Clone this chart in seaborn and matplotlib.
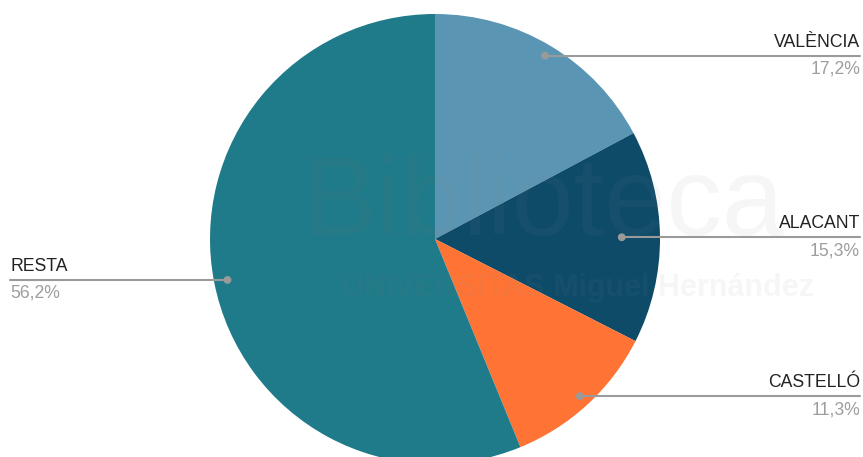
import numpy as np
import seaborn as sns
import matplotlib.pyplot as plt

# Province shares (percent)
provinces = ["VALÈNCIA", "ALACANT", "CASTELLÓ", "RESTA"]
shares = [17.2, 15.3, 11.3, 56.2]
share_labels = ["17,2%", "15,3%", "11,3%", "56,2%"]
colors = ["#5a96b4", "#0e4b69", "#ff7435", "#1f7a89"]
dot_radius = [0.95, 0.83, 0.95, 0.94]

sns.set_style("white")
plt.rcParams['font.family'] = ['Liberation Sans', 'DejaVu Sans']

W, H = 863, 457
fig = plt.figure(figsize=(W / 100, H / 100), dpi=100)
cx, cy, r = 435, 239, 225
ax = fig.add_axes([(cx - r) / W, (H - cy - r) / H, 2 * r / W, 2 * r / H])

wedges, _ = ax.pie(shares, colors=colors, startangle=90, counterclock=False,
                   radius=1, wedgeprops=dict(linewidth=0))
ax.set_xlim(-1, 1)
ax.set_ylim(-1, 1)
ax.axis("off")

# faint watermark
fig.text(0.63, 0.55, "Biblioteca", fontsize=80, color="#888888", alpha=0.07,
         ha="center", va="center")
fig.text(0.67, 0.37, "UNIVERSITAS Miguel Hernández", fontsize=22, color="#888888",
         alpha=0.07, ha="center", va="center", fontweight="bold")

grey = "#9a9a9a"
for w, name, lab, rf in zip(wedges, provinces, share_labels, dot_radius):
    ang = np.deg2rad((w.theta1 + w.theta2) / 2)
    x, y = rf * np.cos(ang), rf * np.sin(ang)
    px = cx + x * r
    py = H - (cy - y * r)
    if x >= 0:
        xe, ha = W - 3, "right"
    else:
        xe, ha = 10, "left"
    fig.add_artist(plt.Line2D([px / W, xe / W], [py / H, py / H], color=grey,
                              linewidth=1.5, transform=fig.transFigure))
    fig.add_artist(plt.Circle((px, py), 3.2, color=grey, transform=None))
    fig.text(xe / W, (py + 5) / H, name, ha=ha, va="bottom", fontsize=12.7,
             color="#222222")
    fig.text(xe / W, (py - 5) / H, lab, ha=ha, va="top", fontsize=12.7,
             color="#9e9e9e")

fig.savefig("out.png", dpi=100)
